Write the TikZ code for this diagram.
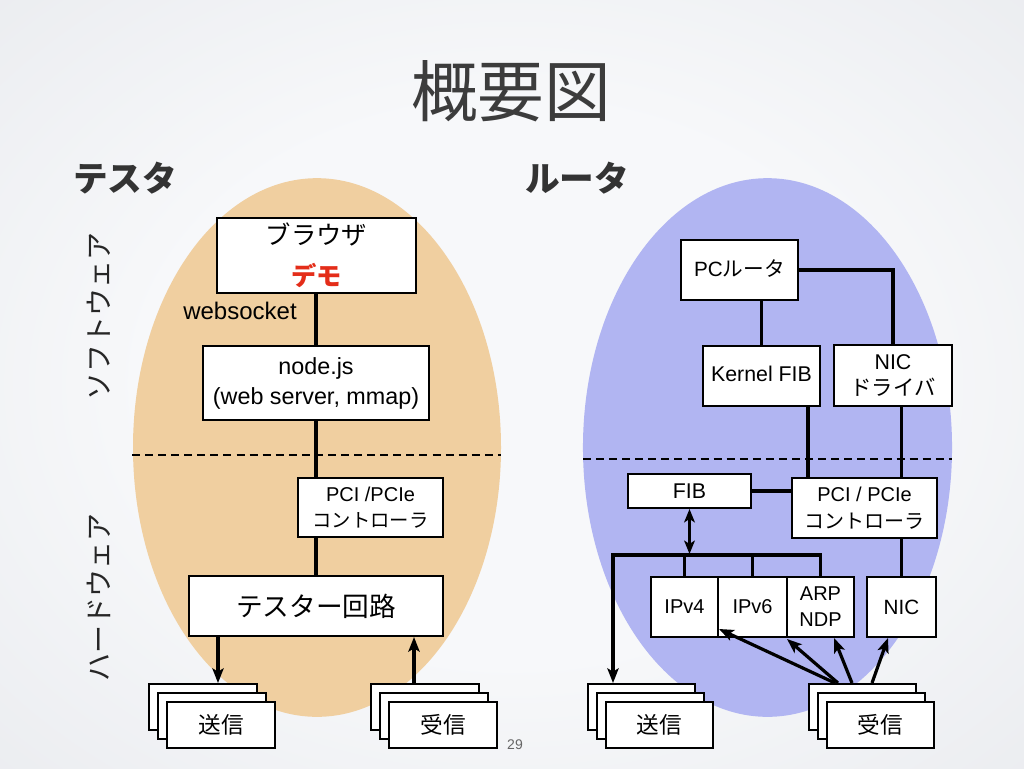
\documentclass[tikz,border=0pt]{standalone}
\usepackage{fontspec}
\setmainfont{Liberation Sans}
\newfontfamily\jp{Noto Sans CJK JP}
\usetikzlibrary{arrows.meta}
\definecolor{bgin}{RGB}{247,248,250}
\definecolor{bgout}{RGB}{212,215,221}
\definecolor{tanc}{RGB}{240,207,160}
\definecolor{bluec}{RGB}{177,181,242}
\definecolor{titlec}{RGB}{60,60,60}
\definecolor{demored}{RGB}{228,45,25}
\pgfdeclareradialshading{bgsh}{\pgfpoint{0bp}{0bp}}{color(0bp)=(bgin); color(18bp)=(bgin); color(71bp)=(bgout)}
\newcommand\fsz[2]{\fontsize{#1pt}{#2pt}\selectfont}
% name, x1, y1, x2, y2, font, text
\newcommand\bx[7]{\node[box,font={#6},minimum width={(#4-#2)*0.75pt},minimum height={(#5-#3)*0.75pt}] (#1) at ({(#2+#4)/2},{(#3+#5)/2}) {#7};}
\newcommand\stk[6]{%
  \node[box,minimum width={(#4-#2)*0.75pt},minimum height={(#5-#3)*0.75pt}] (#1b) at ({(#2+#4)/2-18},{(#3+#5)/2-18}) {};
  \node[box,minimum width={(#4-#2)*0.75pt},minimum height={(#5-#3)*0.75pt}] (#1m) at ({(#2+#4)/2-9},{(#3+#5)/2-9}) {};
  \node[box,minimum width={(#4-#2)*0.75pt},minimum height={(#5-#3)*0.75pt},font=\jp\fsz{17}{20}] (#1) at ({(#2+#4)/2},{(#3+#5)/2}) {#6};}
\begin{document}
\begin{tikzpicture}[x=0.75pt,y=-0.75pt,
  box/.style={draw=black,line width=1.5pt,fill=white,inner sep=0pt,align=center},
  conn/.style={line width=2.4pt},
  arr/.style={conn,-{Stealth[length=11pt,width=8.5pt,inset=2.5pt]}},
  darr/.style={conn,{Stealth[length=10pt,width=8pt,inset=2.5pt]}-{Stealth[length=10pt,width=8pt,inset=2.5pt]}},
  divider/.style={line width=1.5pt,dash pattern=on 6pt off 3.8pt}]
\useasboundingbox (0,0) rectangle (1024,768);
\shade[shading=bgsh] (0,0) rectangle (1024,768);

% ellipses
\fill[tanc] (317,447.5) ellipse [x radius=138pt, y radius=202pt];
\fill[bluec] (767.5,447.5) ellipse [x radius=138.4pt, y radius=202pt];

% titles
\node[font=\jp\fsz{50}{60},text=titlec] (title) at (511,91) {概要図};
\node[font=\jp\bfseries\fsz{26}{30},text=black!80] (tester-t) at (125,178) {テスタ};
\node[font=\jp\bfseries\fsz{26}{30},text=black!80] (router-t) at (577,178) {ルータ};
\node[font=\jp\fsz{21}{25},text=black!85,rotate=90] (sw) at (99,316) {ソフトウェア};
\node[font=\jp\fsz{21}{25},text=black!85,rotate=90] (hw) at (99,597) {ハードウェア};

% dividers
\coordinate (dl1) at (132,455); \coordinate (dl2) at (501,455);
\coordinate (dr1) at (583,459); \coordinate (dr2) at (952,459);
\draw[divider] (dl1) -- (dl2);
\draw[divider] (dr1) -- (dr2);

% ---- left (tester) ----
\bx{brow}{217}{218}{416}{293}{\jp\fsz{19}{31}}{ブラウザ\\{\bfseries\color{demored}デモ}}
\bx{nodejs}{203}{346}{429}{420}{\fsz{17.5}{22.5}}{node.js\\(web server, mmap)}
\bx{pciL}{298}{478}{443}{537}{\fsz{15}{20}}{PCI /PCIe\\{\jp\fsz{14.5}{20}コントローラ}}
\bx{tester}{189}{576}{443}{636}{\jp\fsz{20}{24}}{テスター回路}
\stk{sendL}{167}{702}{275}{748}{送信}
\stk{recvL}{389}{702}{497}{748}{受信}
\node[font=\fsz{18}{22}] (ws) at (240,311) {websocket};

\draw[conn] (316,0 |- brow.south) -- (nodejs.north);
\draw[conn] (316,0 |- nodejs.south) -- (316,0 |- pciL.north);
\draw[conn] (316,0 |- pciL.south) -- (tester.north);
\draw[arr] (218,0 |- tester.south) -- (218,0 |- sendLb.north);
\draw[arr] (414,0 |- recvLb.north) -- (414,0 |- tester.south);

% ---- right (router) ----
\bx{pcr}{681}{240}{798}{300}{\fsz{15.5}{20}}{\raisebox{3pt}{PC{\jp ルータ}}}
\bx{kfib}{703}{346}{820}{406}{\fsz{16}{20}}{\raisebox{3pt}{Kernel FIB}}
\bx{nicd}{834}{345}{952}{406}{\fsz{16}{19.5}}{NIC\\{\jp ドライバ}}
\bx{fib}{628}{474}{751}{508}{\fsz{16}{20}}{FIB}
\bx{pciR}{792}{478}{937}{538}{\fsz{15}{20}}{PCI / PCIe\\{\jp コントローラ}}
\bx{ipv4}{651}{577}{718}{637}{\fsz{15}{19.5}}{IPv4}
\bx{ipv6}{718}{577}{787}{637}{\fsz{15}{19.5}}{IPv6}
\bx{arp}{787}{577}{854}{637}{\fsz{15}{19.5}}{ARP\\NDP}
\bx{nic}{867}{577}{936}{637}{\fsz{15.5}{19.5}}{NIC}
\stk{sendR}{606}{702}{713}{748}{送信}
\stk{recvR}{827}{702}{934}{748}{受信}

\coordinate (bus) at (613,555);
\draw[conn] (kfib.north) -- (kfib.north |- pcr.south);
\draw[conn] (pcr.east) -| (nicd.north);
\draw[conn] (808,0 |- kfib.south) -- (808,0 |- pciR.north);
\draw[conn] (nic.north |- nicd.south) -- (nic.north |- pciR.north);
\draw[conn] (fib.east) -- (fib.east -| pciR.west);
\draw[conn] (nic.north |- pciR.south) -- (nic.north);
\draw[arr] (arp.north) |- (bus) -- (bus |- sendRb.north);
\draw[conn] (ipv4.north) -- (ipv4.north |- bus);
\draw[conn] (ipv6.north) -- (ipv6.north |- bus);
\draw[darr] (fib.south) -- ([yshift=0.8pt]fib.south |- bus);
\draw[arr] (835,0 |- recvRb.north) -- ([shift={(2,-9)}]ipv6.south west);
\draw[arr] (838,0 |- recvRb.north) -- ([shift={(1,1)}]arp.south west);
\draw[arr] (852,0 |- recvRb.north) -- (834,0 |- arp.south);
\draw[arr] (872,0 |- recvRb.north) -- (888,0 |- nic.south);

\node[font=\fsz{10.5}{12},text=black!60] (pg) at (515,745) {29};
\end{tikzpicture}
\end{document}
